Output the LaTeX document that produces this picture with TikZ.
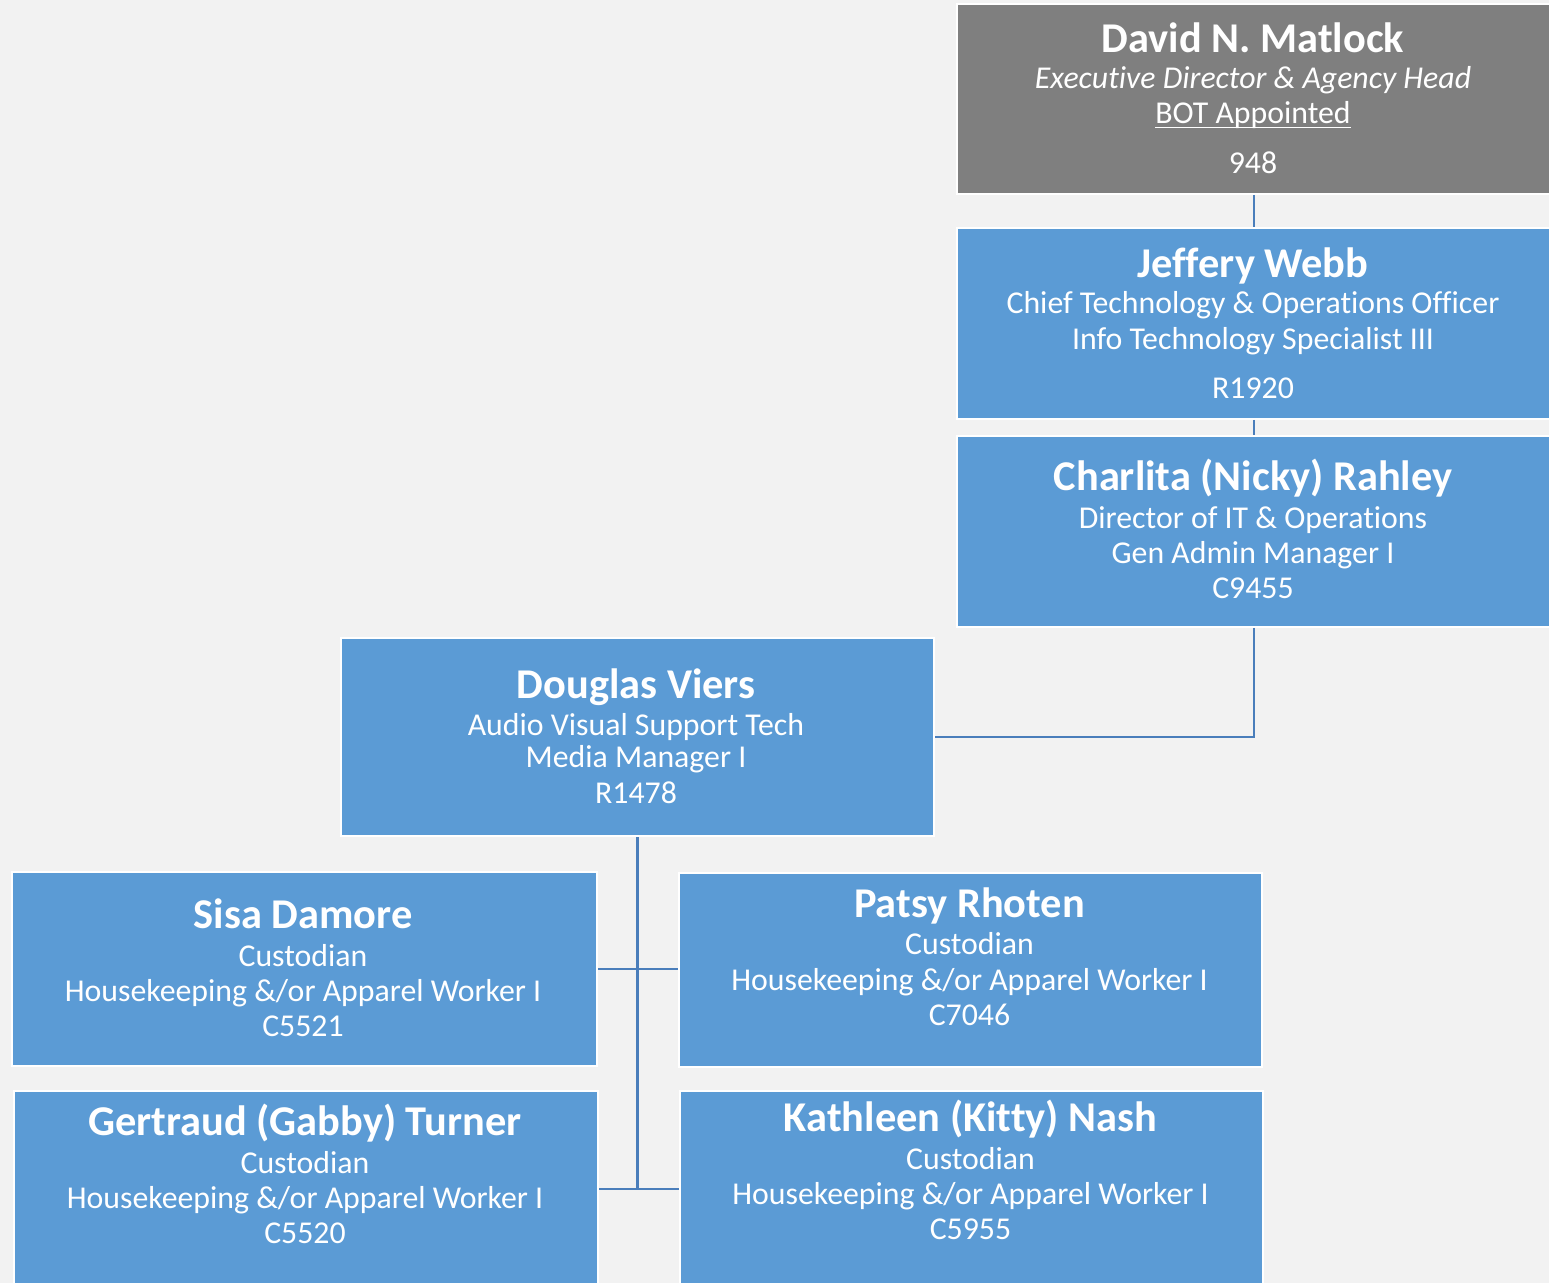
\documentclass[tikz,border=0pt]{standalone}
\usepackage{fontspec}
\setmainfont{Carlito}[Ligatures=CommonOff]
\definecolor{pagebg}{HTML}{F2F2F2}
\definecolor{cardblue}{HTML}{5B9BD5}
\definecolor{cardgray}{HTML}{7F7F7F}
\definecolor{linkblue}{HTML}{4A7EBB}

\tikzset{
  card/.style={draw=white, line width=1pt, inner sep=0pt, anchor=north west, fill=cardblue},
  headcard/.style={card, fill=cardgray},
  pname/.style={anchor=base, inner sep=0pt, text=white, font=\bfseries\fontsize{21.2}{24}\selectfont},
  prole/.style={anchor=base, inner sep=0pt, text=white, font=\fontsize{15.9}{18}\selectfont},
  link/.style={draw=linkblue, line width=1.4pt},
}
% underline drawn a little heavier and lower than the default
\newcommand{\heavyunderline}[1]{\setbox0\hbox{#1}\rlap{\hbox{#1}}\raisebox{-2.2pt}{\rule{\wd0}{0.9pt}}}

\begin{document}
\begin{tikzpicture}[x=0.5pt, y=-0.5pt]
  \useasboundingbox (0,0) rectangle (1549,1283);
  \fill[pagebg] (0,0) rectangle (1549,1283);
  \clip (0,0) rectangle (1549,1283);

  % boxes (pixel grid, y downward)
  \node[headcard, minimum width=297pt, minimum height=95pt]   (matlock)  at (956,3) {};
  \node[card, minimum width=297pt, minimum height=95.5pt]     (webb)     at (956,227) {};
  \node[card, minimum width=297pt, minimum height=95.5pt]     (rahley)   at (956,435) {};
  \node[card, minimum width=296.5pt, minimum height=99pt]     (viers)    at (340,637) {};
  \node[card, minimum width=292.5pt, minimum height=97pt]     (sisa)     at (11,871) {};
  \node[card, minimum width=291.5pt, minimum height=97pt]     (patsy)    at (678,872) {};
  \node[card, minimum width=292pt, minimum height=98pt]       (gabby)    at (13,1090) {};
  \node[card, minimum width=291.5pt, minimum height=98pt]     (kitty)    at (679,1090) {};

  % connectors
  \draw[link] (matlock.south) -- (webb.north);
  \draw[link] (webb.south) -- (rahley.north);
  \draw[link] (rahley.south) |- (viers.east);
  \coordinate (trunkA) at (viers.south |- sisa.east);
  \coordinate (trunkB) at (viers.south |- gabby.east);
  \draw[link] (viers.south) -- (trunkB);
  \draw[link] (sisa.east) -- (trunkA) -- (trunkA -| patsy.west);
  \draw[link] (gabby.east) -- (trunkB) -- (trunkB -| kitty.west);

  % David N. Matlock
  \node[pname] (matlock-n) at (1253,53) {David N. Matlock};
  \node[prole] (matlock-a) at (1253,89) {\itshape Executive Director \& Agency Head};
  \node[prole] (matlock-b) at (1253,124) {\heavyunderline{BOT Appointed}};
  \node[prole] (matlock-c) at (1253,174) {948};

  % Jeffery Webb
  \node[pname] (webb-n) at (1253,278) {Jeffery Webb};
  \node[prole] (webb-a) at (1253,314) {Chief Technology \& Operations Officer};
  \node[prole] (webb-b) at (1253,350) {Info Technology Specialist III};
  \node[prole] (webb-c) at (1253,399) {R1920};

  % Charlita (Nicky) Rahley
  \node[pname] (rahley-n) at (1253,491) {Charlita (Nicky) Rahley};
  \node[prole] (rahley-a) at (1253,529) {Director of IT \& Operations};
  \node[prole] (rahley-b) at (1253,564) {Gen Admin Manager I};
  \node[prole] (rahley-c) at (1253,599) {C9455};

  % Douglas Viers
  \node[pname] (viers-n) at (636,698) {Douglas Viers};
  \node[prole] (viers-a) at (636,735) {Audio Visual Support Tech};
  \node[prole] (viers-b) at (636,768) {Media Manager I};
  \node[prole] (viers-c) at (636,803) {R1478};

  % Sisa Damore
  \node[pname] (sisa-n) at (303,928) {Sisa Damore};
  \node[prole] (sisa-a) at (303,966) {Custodian};
  \node[prole] (sisa-b) at (303,1001) {Housekeeping \&/or Apparel Worker I};
  \node[prole] (sisa-c) at (303,1036) {C5521};

  % Patsy Rhoten
  \node[pname] (patsy-n) at (969.5,917) {Patsy Rhoten};
  \node[prole] (patsy-a) at (969.5,954) {Custodian};
  \node[prole] (patsy-b) at (969.5,990) {Housekeeping \&/or Apparel Worker I};
  \node[prole] (patsy-c) at (969.5,1025) {C7046};

  % Gertraud (Gabby) Turner
  \node[pname] (gabby-n) at (305,1135) {Gertraud (Gabby) Turner};
  \node[prole] (gabby-a) at (305,1173) {Custodian};
  \node[prole] (gabby-b) at (305,1208) {Housekeeping \&/or Apparel Worker I};
  \node[prole] (gabby-c) at (305,1243) {C5520};

  % Kathleen (Kitty) Nash
  \node[pname] (kitty-n) at (970.5,1131) {Kathleen (Kitty) Nash};
  \node[prole] (kitty-a) at (970.5,1169) {Custodian};
  \node[prole] (kitty-b) at (970.5,1204) {Housekeeping \&/or Apparel Worker I};
  \node[prole] (kitty-c) at (970.5,1239) {C5955};
\end{tikzpicture}
\end{document}
